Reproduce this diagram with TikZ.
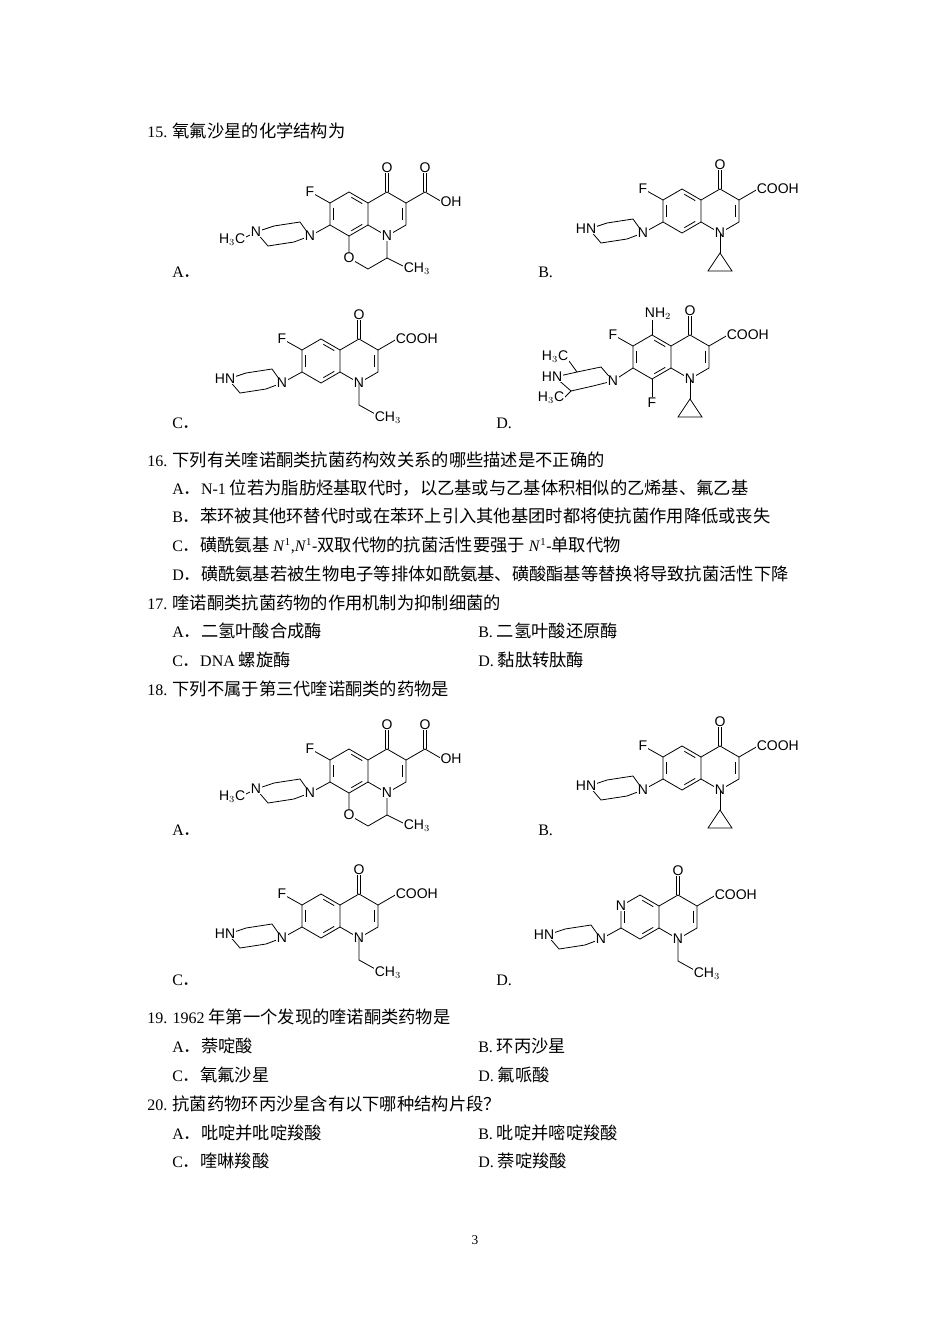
\documentclass[tikz,border=0pt]{standalone}
\usepackage{fontspec}
\setmainfont{Liberation Serif}
\setsansfont{Liberation Sans}
\newfontfamily\cjk[Scale=1.08]{Noto Sans CJK SC}
\usetikzlibrary{calc}
\newcommand\zh[1]{{\cjk #1}}
\tikzset{
 txt/.style={anchor=west,inner sep=0pt,font=\fontsize{12}{14}\selectfont},
 atom/.style={font=\sffamily\fontsize{10.5}{10.5}\selectfont,fill=white,inner sep=0.4pt},
 bond/.style={line width=0.6pt},
}
\newcommand\inner[3]{\draw[bond,shorten <=2pt,shorten >=2pt] ($(#3)!0.82!(#1)$) -- ($(#3)!0.82!(#2)$);}
% quinolone core, left ring centre at origin
\newcommand\core{%
 \coordinate (L) at (0,0); \coordinate (R) at (38,0);
 \coordinate (c5) at (0,-22); \coordinate (c6) at (-19,-11); \coordinate (c7) at (-19,11);
 \coordinate (c8) at (0,22); \coordinate (c8a) at (19,11); \coordinate (c4a) at (19,-11);
 \coordinate (c4) at (38,-22); \coordinate (c3) at (57,-11); \coordinate (c2) at (57,11);
 \coordinate (n1) at (38,22);
 \draw[bond] (c5)--(c6)--(c7)--(c8)--(c8a)--(c4a)--cycle;
 \draw[bond] (c4a)--(c4)--(c3)--(c2)--(n1)--(c8a);
 \inner{c6}{c7}{L}\inner{c5}{c4a}{L}\inner{c8}{c8a}{L}\inner{c3}{c2}{R}
 \draw[bond] (36.5,-22)--(36.5,-42) (39.5,-22)--(39.5,-42);
 \node[atom] (ok) at (38,-46) {O};
 \node[atom] (n1l) at (n1) {N};
}
\newcommand\cooh{\draw[bond] (c3)--(76,-22); \node[atom,anchor=west] (cooh) at (74,-22) {COOH};}
\newcommand\fsix{\draw[bond] (c6)--(-35,-20); \node[atom] (f6) at (-39,-22) {F};}
\newcommand\cprop{\draw[bond] (n1)--(38,42); \draw[bond] (38,42)--(26,60)--(50,60)--cycle;}
\newcommand\ethyl{\draw[bond] (n1)--(38,44)--(56,54); \node[atom,anchor=west] at (53,57) {CH$_3$};}
% piperazine attached at c7; N' at (-39,22)
\newcommand\pip[1]{%
 \draw[bond] (c7)--(-39,22);
 \begin{scope}[shift={(-39,22)}]
 \draw[bond] (0,0)--(-10,-14)--(-36,-10)--(-54,-4)--(-42,10)--(-16,6)--cycle;
 \node[atom] (np) at (0,0) {N};
 #1
 \end{scope}}
\newcommand\hn{\node[atom] (hn) at (-57,-4) {HN};}
\newcommand\mepip{\draw[bond] (-54,-4)--(-66,2); \node[atom,anchor=east] at (-64,4) {H$_3$C};\node[atom] at (-54,-4) {N};}
\newcommand\oflox{%
 \core \fsix \pip{\mepip}
 \draw[bond] (c8)--(0,44)--(19,55)--(38,44)--(n1); \draw[bond] (38,44)--(56,53);
 \node[atom] at (0,44) {O}; \node[atom,anchor=west] at (54,55) {CH$_3$};
 \node[atom] at (n1) {N};
 \draw[bond] (c3)--(76,-22)--(95,-11);
 \draw[bond] (74.5,-22)--(74.5,-42) (77.5,-22)--(77.5,-42);
 \node[atom] at (76,-46) {O}; \node[atom] at (102,-12) {OH};}
\newcommand\cipro{\core \fsix \cooh \pip{\hn} \cprop}
\newcommand\norf{\core \fsix \cooh \pip{\hn} \ethyl}
\begin{document}
\begin{tikzpicture}[x=0.75pt,y=-0.75pt]
\fill[white] (0,0) rectangle (950,1344);
\node[txt] (q15) at (147,131) {15. \zh{氧氟沙星的化学结构为}};
\begin{scope}[shift={(349,214)}]\oflox\end{scope}
\begin{scope}[shift={(682,211)}]\cipro\end{scope}
\begin{scope}[shift={(321,361)}]\norf\end{scope}
\begin{scope}[shift={(652,357)}]
 \core \fsix \cooh \cprop
 \draw[bond] (c5)--(0,-38); \node[atom] at (6,-43) {NH$_2$};
 \draw[bond] (c8)--(0,40); \node[atom] at (0,46) {F};
 \draw[bond] (c7)--(-39,24);
 \begin{scope}[shift={(-39,24)}]
 \draw[bond] (0,0)--(-12,-14)--(-36,-9)--(-58,-4)--(-42,10)--(-20,5)--cycle;
 \draw[bond] (-36,-9)--(-44,-20); \draw[bond] (-42,10)--(-50,18);
 \node[atom] at (0,0) {N};
 \node[atom] at (-61,-4) {HN};
 \node[atom] at (-58,-24) {H$_3$C};
 \node[atom] at (-62,17) {H$_3$C};
 \end{scope}
\end{scope}
\node[txt] at (172,272) {A\zh{．}};
\node[txt] at (538,272) {B.};
\node[txt] at (172,423) {C\zh{．}};
\node[txt] at (496,423) {D.};
\node[txt] (q16) at (147,460) {16. \zh{下列有关喹诺酮类抗菌药构效关系的哪些描述是不正确的}};
\node[txt] at (172,488) {A\zh{．}N-1 \zh{位若为脂肪烃基取代时，以乙基或与乙基体积相似的乙烯基、氟乙基}};
\node[txt] at (172,516) {B\zh{．苯环被其他环替代时或在苯环上引入其他基团时都将使抗菌作用降低或丧失}};
\node[txt] at (172,545) {C\zh{．磺酰氨基} \textit{N}\textsuperscript{1},\textit{N}\textsuperscript{1}-\zh{双取代物的抗菌活性要强于} \textit{N}\textsuperscript{1}-\zh{单取代物}};
\node[txt] at (172,574) {D\zh{．磺酰氨基若被生物电子等排体如酰氨基、磺酸酯基等替换将导致抗菌活性下降}};
\node[txt] (q17) at (147,603) {17. \zh{喹诺酮类抗菌药物的作用机制为抑制细菌的}};
\node[txt] at (172,631) {A\zh{．二氢叶酸合成酶}};
\node[txt] at (478,631) {B. \zh{二氢叶酸还原酶}};
\node[txt] at (172,660) {C\zh{．}DNA \zh{螺旋酶}};
\node[txt] at (478,660) {D. \zh{黏肽转肽酶}};
\node[txt] (q18) at (147,689) {18. \zh{下列不属于第三代喹诺酮类的药物是}};
\begin{scope}[shift={(349,771)}]\oflox\end{scope}
\begin{scope}[shift={(682,768)}]\cipro\end{scope}
\begin{scope}[shift={(321,916)}]\norf\end{scope}
\begin{scope}[shift={(640,917)}]
 \core \cooh \pip{\hn} \ethyl
 \node[atom] at (c6) {N};
\end{scope}
\node[txt] at (172,830) {A\zh{．}};
\node[txt] at (538,830) {B.};
\node[txt] at (172,980) {C\zh{．}};
\node[txt] at (496,980) {D.};
\node[txt] (q19) at (147,1017) {19. 1962 \zh{年第一个发现的喹诺酮类药物是}};
\node[txt] at (172,1046) {A\zh{．萘啶酸}};
\node[txt] at (478,1046) {B. \zh{环丙沙星}};
\node[txt] at (172,1075) {C\zh{．氧氟沙星}};
\node[txt] at (478,1075) {D. \zh{氟哌酸}};
\node[txt] (q20) at (147,1104) {20. \zh{抗菌药物环丙沙星含有以下哪种结构片段？}};
\node[txt] at (172,1133) {A\zh{．吡啶并吡啶羧酸}};
\node[txt] at (478,1133) {B. \zh{吡啶并嘧啶羧酸}};
\node[txt] at (172,1161) {C\zh{．喹啉羧酸}};
\node[txt] at (478,1161) {D. \zh{萘啶羧酸}};
\node[inner sep=0pt,font=\fontsize{10}{12}\selectfont] (pg) at (475,1240) {3};
\end{tikzpicture}
\end{document}
